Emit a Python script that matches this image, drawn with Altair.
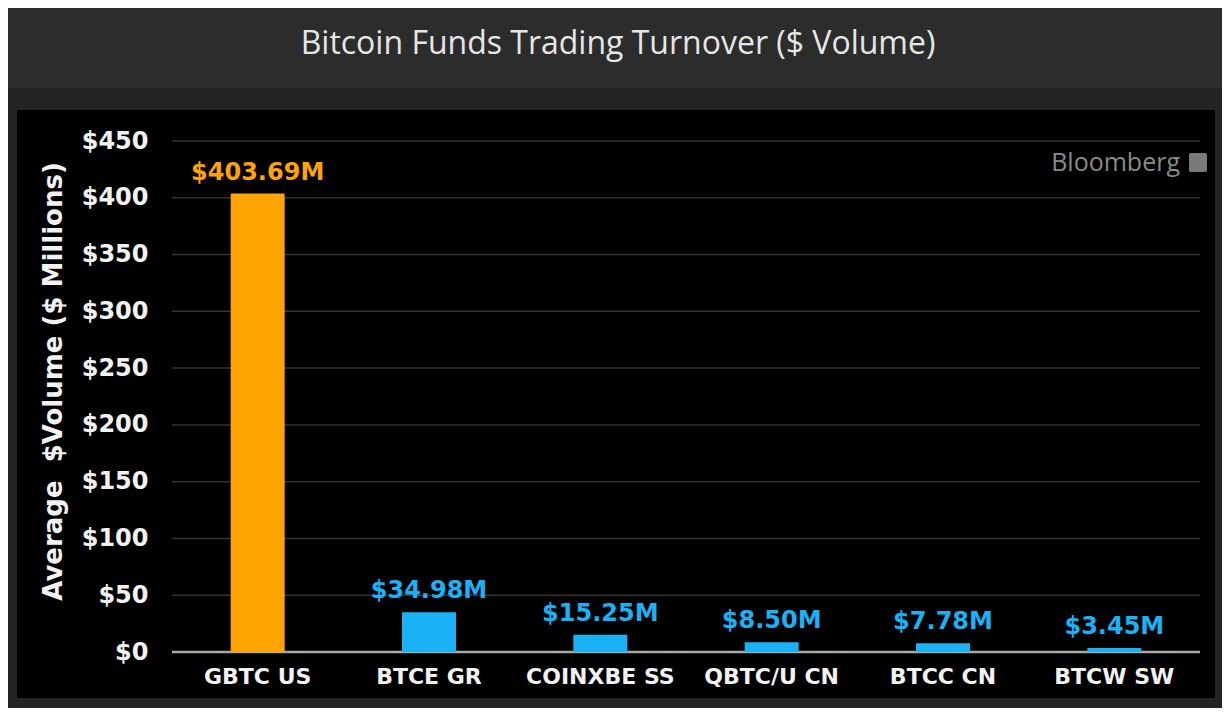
import altair as alt
import pandas as pd

funds = ["GBTC US", "BTCE GR", "COINXBE SS", "QBTC/U CN", "BTCC CN", "BTCW SW"]
volumes = [403.69, 34.98, 15.25, 8.50, 7.78, 3.45]
value_labels = ["$403.69M", "$34.98M", "$15.25M", "$8.50M", "$7.78M", "$3.45M"]
y_ticks = [0, 50, 100, 150, 200, 250, 300, 350, 400, 450]

df = pd.DataFrame({"fund": funds, "volume": volumes, "label": value_labels})
grid_df = pd.DataFrame({"tick": y_ticks[1:]})
zero_df = pd.DataFrame({"tick": y_ticks[:1]})
one = pd.DataFrame({"k": [0]})

ORANGE = "#FFA400"
BLUE = "#1AB2F6"
color_scale = alt.Scale(domain=funds, range=[ORANGE] + [BLUE] * 5)
y_scale = alt.Scale(domain=[0, 450], nice=False)

x_enc = alt.X(
    "fund:N",
    sort=funds,
    scale=alt.Scale(paddingInner=0.685, paddingOuter=0.3425),
    axis=alt.Axis(
        title=None,
        labelAngle=0,
        labelFont="DejaVu Sans",
        labelFontWeight="bold",
        labelFontSize=22,
        labelColor="#f2f2f2",
        labelPadding=14,
        ticks=False,
        domain=False,
        grid=False,
        zindex=2,
    ),
)
y_enc = alt.Y(
    "volume:Q",
    scale=y_scale,
    axis=alt.Axis(
        values=y_ticks,
        title="Average\u00a0\u00a0$Volume ($ Millions)",
        titleFont="DejaVu Sans",
        titleFontWeight="bold",
        titleFontSize=26,
        titleColor="#f2f2f2",
        titlePadding=15,
        titleY=240,
        labelExpr="'$' + datum.value",
        labelFont="DejaVu Sans",
        labelFontWeight="bold",
        labelFontSize=24,
        labelColor="#f2f2f2",
        labelPadding=24,
        ticks=False,
        domain=False,
        grid=False,
        zindex=2,
    ),
)

title_band = alt.Chart(one).mark_rect(color="#2c2c2c").encode(
    x=alt.value(-164), x2=alt.value(1050), y=alt.value(-133), y2=alt.value(-53)
)
panel = alt.Chart(one).mark_rect(color="#000000").encode(
    x=alt.value(-155), x2=alt.value(1043), y=alt.value(-31), y2=alt.value(557)
)
grid = alt.Chart(grid_df).mark_rule(color="#343434", strokeWidth=1.5).encode(
    y=alt.Y("tick:Q", scale=y_scale)
)
zero = alt.Chart(zero_df).mark_rule(color="#a8a8a8", strokeWidth=2.5).encode(
    y=alt.Y("tick:Q", scale=y_scale)
)

bars = alt.Chart(df).mark_bar().encode(
    x=x_enc,
    y=y_enc,
    color=alt.Color("fund:N", scale=color_scale, legend=None),
)
labels = alt.Chart(df).mark_text(
    baseline="bottom", dy=-9, font="DejaVu Sans", fontWeight="bold", fontSize=24
).encode(
    x=alt.X("fund:N", sort=funds),
    y="volume:Q",
    text="label:N",
    color=alt.Color("fund:N", scale=color_scale, legend=None),
)

title = alt.Chart(one).mark_text(
    text="Bitcoin Funds Trading Turnover ($ Volume)",
    font="Open Sans",
    fontSize=32,
    color="#e6e6e6",
    align="center",
    baseline="middle",
).encode(x=alt.value(446), y=alt.value(-97))

brand = alt.Chart(one).mark_text(
    text="Bloomberg",
    font="Open Sans",
    fontSize=25,
    color="#8a8a8a",
    align="right",
    baseline="middle",
).encode(x=alt.value(1008), y=alt.value(22))
brand_icon = alt.Chart(one).mark_rect(color="#7a7a7a", cornerRadius=2).encode(
    x=alt.value(1017), x2=alt.value(1035), y=alt.value(12), y2=alt.value(31)
)

chart = alt.layer(
    title_band, panel, grid, zero, bars, labels, title, brand, brand_icon
).properties(
    width=1028,
    height=511,
    padding={"left": 164, "top": 133, "right": 22, "bottom": 56},
    autosize="none",
    background="#242424",
).configure_view(stroke=None)

chart.save("out.html", embed_options={"renderer": "svg", "actions": False})
